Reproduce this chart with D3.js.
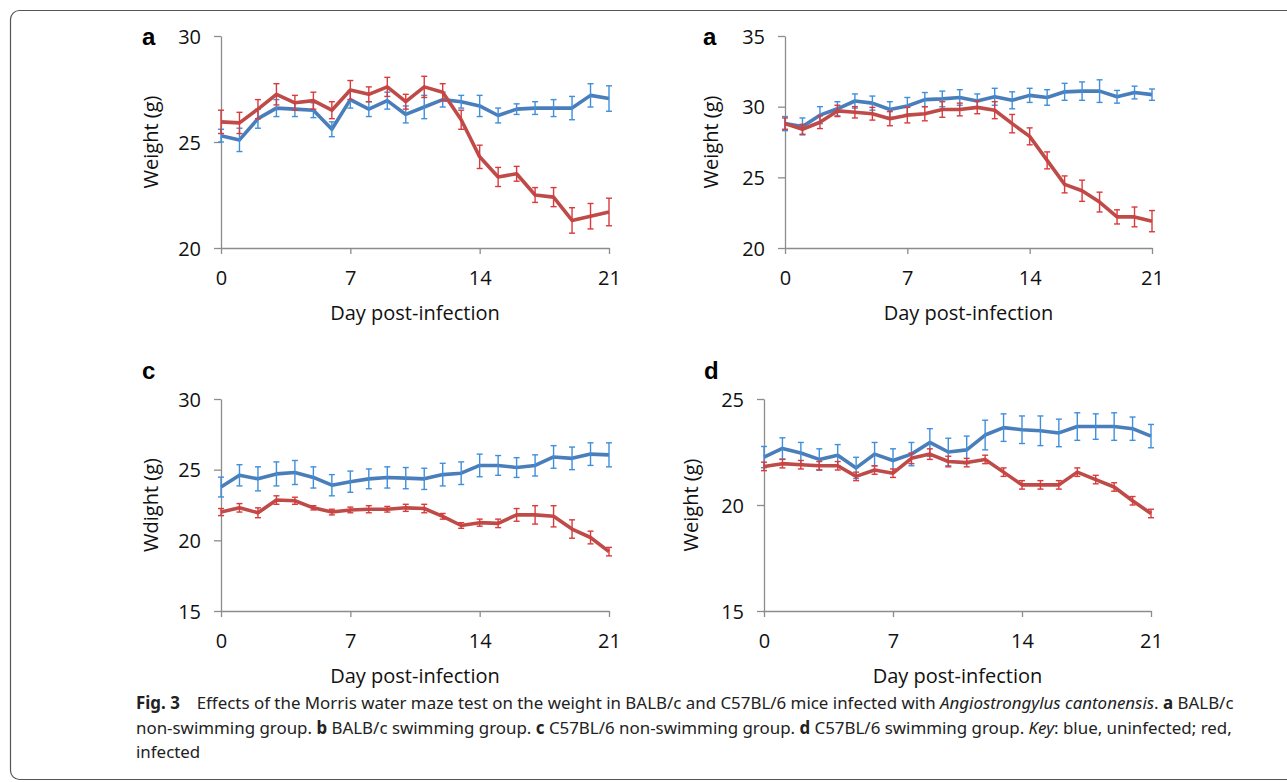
<!DOCTYPE html>
<html>
<head>
<meta charset="utf-8">
<script src="https://cdn.jsdelivr.net/npm/d3@7"></script>
<style>
  body { margin: 0; background: #fff; }
  svg { display: block; }
  .tick text { font-family: "Open Sans", "Noto Sans", sans-serif; }
</style>
</head>
<body>
<div id="svg-container"></div>
<script>
////////////////////////////  Data  ////////////////////////////
const days = [0,1,2,3,4,5,6,7,8,9,10,11,12,13,14,15,16,17,18,19,20,21];
const dayTicks = [0, 7, 14, 21];

// panel a (BALB/c non-swimming)
const aBlue    = [25.3,25.1,26.1,26.6,26.55,26.5,25.6,27.0,26.55,26.95,26.3,26.65,27.0,26.9,26.7,26.25,26.55,26.6,26.6,26.6,27.2,27.05];
const aBlueErr = [0.3,0.55,0.45,0.4,0.35,0.35,0.35,0.4,0.35,0.4,0.4,0.55,0.35,0.3,0.5,0.35,0.25,0.3,0.4,0.55,0.55,0.6];
const aRed     = [25.95,25.9,26.55,27.25,26.85,26.95,26.5,27.45,27.25,27.6,26.9,27.6,27.35,26.05,24.3,23.35,23.5,22.5,22.4,21.3,21.5,21.7];
const aRedErr  = [0.55,0.5,0.45,0.5,0.35,0.4,0.4,0.45,0.35,0.45,0.35,0.5,0.4,0.45,0.55,0.45,0.35,0.35,0.45,0.6,0.6,0.65];

// panel b (BALB/c swimming)
const bBlue    = [28.8,28.6,29.4,29.85,30.4,30.25,29.8,30.05,30.5,30.55,30.65,30.4,30.7,30.45,30.8,30.65,31.05,31.1,31.1,30.7,31.0,30.85];
const bBlueErr = [0.5,0.6,0.6,0.5,0.5,0.5,0.55,0.6,0.5,0.55,0.55,0.5,0.6,0.6,0.5,0.55,0.6,0.65,0.8,0.45,0.45,0.4];
const bRed     = [28.8,28.4,28.9,29.7,29.6,29.5,29.15,29.4,29.5,29.8,29.8,29.95,29.75,28.8,27.9,26.2,24.5,24.05,23.25,22.2,22.2,21.9];
const bRedErr  = [0.4,0.35,0.45,0.4,0.4,0.45,0.5,0.55,0.5,0.55,0.45,0.45,0.6,0.65,0.6,0.6,0.6,0.75,0.7,0.5,0.7,0.75];

// panel c (C57BL/6 non-swimming)
const cBlue    = [23.77,24.6,24.35,24.7,24.8,24.45,23.9,24.15,24.35,24.45,24.4,24.35,24.65,24.75,25.3,25.3,25.15,25.3,25.9,25.8,26.1,26.05];
const cBlueErr = [0.7,0.75,0.85,0.85,0.85,0.75,0.75,0.75,0.7,0.75,0.75,0.75,0.8,0.8,0.8,0.7,0.7,0.75,0.8,0.8,0.8,0.85];
const cRed     = [22.0,22.3,21.95,22.85,22.8,22.3,22.0,22.15,22.2,22.2,22.3,22.25,21.7,21.05,21.25,21.2,21.8,21.8,21.7,20.8,20.2,19.2];
const cRedErr  = [0.25,0.3,0.35,0.3,0.25,0.15,0.2,0.2,0.25,0.2,0.25,0.3,0.2,0.2,0.25,0.3,0.45,0.65,0.75,0.65,0.45,0.3];

// panel d (C57BL/6 swimming)
const dBlue    = [22.26,22.67,22.45,22.15,22.35,21.75,22.4,22.1,22.4,22.95,22.5,22.6,23.3,23.65,23.55,23.5,23.4,23.7,23.7,23.7,23.6,23.25];
const dBlueErr = [0.5,0.5,0.5,0.5,0.5,0.5,0.55,0.55,0.55,0.65,0.65,0.65,0.7,0.65,0.65,0.7,0.65,0.65,0.6,0.65,0.55,0.55];
const dRed     = [21.82,21.95,21.9,21.85,21.85,21.35,21.65,21.5,22.2,22.4,22.05,22.0,22.15,21.55,20.95,20.95,20.95,21.55,21.2,20.85,20.2,19.6];
const dRedErr  = [0.2,0.2,0.2,0.2,0.2,0.2,0.2,0.2,0.25,0.25,0.25,0.2,0.2,0.2,0.2,0.2,0.2,0.2,0.2,0.2,0.2,0.2];

const panelLetters = ["a", "a", "c", "d"];
const yTitles = ["Weight (g)", "Weight (g)", "Wdight (g)", "Weight (g)"];
const yDomains = [[20, 30], [20, 35], [15, 30], [15, 25]];
const yTickSets = [[20, 25, 30], [20, 25, 30, 35], [15, 20, 25, 30], [15, 20, 25]];
const xTitle = "Day post-infection";

////////////////////////////  Init  ////////////////////////////
const width = 1287;
const height = 782;

const svg = d3.select("#svg-container").append("svg")
  .attr("width", width)
  .attr("height", height);

// rounded frame (right side runs off the page)
svg.append("rect")
  .attr("x", 10.5).attr("y", 10.5)
  .attr("width", 1300).attr("height", 769)
  .attr("rx", 9)
  .attr("fill", "none")
  .attr("stroke", "#555")
  .attr("stroke-width", 1.2);

const colBlue = "#4a7ebb", colBlueErr = "#3f8fdc";
const colRed = "#be4b48", colRedErr = "#d93a3c";
const axisCol = "#8c8c8c";

// 각 패널 위치
const layout = [
  { x0: 221, x1: 609, yTop: 36, yBot: 248, letterX: 142, letterY: 45, titleX: 153 },
  { x0: 785, x1: 1152, yTop: 36, yBot: 248, letterX: 703, letterY: 45, titleX: 713 },
  { x0: 221, x1: 609, yTop: 399, yBot: 611, letterX: 142, letterY: 379, titleX: 153 },
  { x0: 764, x1: 1151, yTop: 399, yBot: 611, letterX: 704, letterY: 379, titleX: 693 }
];

const series = [
  [aBlue, aBlueErr, aRed, aRedErr],
  [bBlue, bBlueErr, bRed, bRedErr],
  [cBlue, cBlueErr, cRed, cRedErr],
  [dBlue, dBlueErr, dRed, dRedErr]
];

function drawPanel(i) {
  const L = layout[i];
  const g = svg.append("g");

  const xScale = d3.scaleLinear().domain([0, 21]).range([L.x0, L.x1]);
  const yScale = d3.scaleLinear().domain(yDomains[i]).range([L.yBot, L.yTop]);

  // y axis
  const yAxis = g.append("g")
    .attr("transform", `translate(${L.x0},0)`)
    .call(d3.axisLeft(yScale).tickValues(yTickSets[i]).tickSize(7).tickPadding(13).tickSizeOuter(0));
  // x axis
  const xAxis = g.append("g")
    .attr("transform", `translate(0,${L.yBot})`)
    .call(d3.axisBottom(xScale).tickValues(dayTicks).tickSize(6).tickPadding(17).tickSizeOuter(0));

  [yAxis, xAxis].forEach((ax) => {
    ax.select(".domain").attr("stroke", axisCol).attr("stroke-width", 1.3);
    ax.selectAll(".tick line").attr("stroke", axisCol).attr("stroke-width", 1.3);
    ax.selectAll(".tick text").attr("fill", "#111").style("font-size", "20px");
  });
  yAxis.selectAll(".tick text").attr("dy", "0.36em");

  const line = d3.line()
    .x((d, j) => xScale(days[j]))
    .y((d) => yScale(d));

  const [bv, be, rv, re] = series[i];
  [[bv, be, colBlue, colBlueErr], [rv, re, colRed, colRedErr]].forEach(([vals, errs, c, ce]) => {
    g.append("path")
      .datum(vals)
      .attr("d", line)
      .attr("fill", "none")
      .attr("stroke", c)
      .attr("stroke-width", 3.6)
      .attr("stroke-linejoin", "round");

    const eb = g.append("g").attr("stroke", ce).attr("stroke-width", 1.4);
    vals.forEach((v, j) => {
      const x = xScale(days[j]);
      const yHi = yScale(v + errs[j]);
      const yLo = yScale(v - errs[j]);
      eb.append("line").attr("x1", x).attr("x2", x).attr("y1", yHi).attr("y2", yLo);
      eb.append("line").attr("x1", x - 3).attr("x2", x + 3).attr("y1", yHi).attr("y2", yHi);
      eb.append("line").attr("x1", x - 3).attr("x2", x + 3).attr("y1", yLo).attr("y2", yLo);
    });
  });

  // panel letter
  g.append("text")
    .attr("x", L.letterX).attr("y", L.letterY)
    .attr("font-family", "Liberation Sans, Arial, sans-serif")
    .attr("font-weight", "bold")
    .attr("font-size", 24)
    .text(panelLetters[i]);

  // y title
  g.append("text")
    .attr("transform", `translate(${L.titleX},${(L.yTop + L.yBot) / 2}) rotate(-90)`)
    .attr("text-anchor", "middle")
    .attr("dominant-baseline", "middle")
    .attr("font-family", "Open Sans, Noto Sans, sans-serif")
    .attr("font-size", 20)
    .attr("fill", "#111")
    .text(yTitles[i]);

  // x title
  g.append("text")
    .attr("x", (L.x0 + L.x1) / 2).attr("y", L.yBot + 72)
    .attr("text-anchor", "middle")
    .attr("font-family", "Open Sans, Noto Sans, sans-serif")
    .attr("font-size", 20)
    .attr("fill", "#111")
    .text(xTitle);
}

for (let i = 0; i < 4; i++) drawPanel(i);

////////////////////////////  Caption  ////////////////////////////
const cap = svg.append("text")
  .attr("font-family", "Noto Sans, Open Sans, sans-serif")
  .attr("font-size", 16.9)
  .attr("fill", "#222");

const l1 = cap.append("tspan").attr("x", 136).attr("y", 709);
l1.append("tspan").attr("font-weight", "bold").text("Fig. 3");
l1.append("tspan").text("\u2003Effects of the Morris water maze test on the weight in BALB/c and C57BL/6 mice infected with ");
l1.append("tspan").attr("font-style", "italic").text("Angiostrongylus cantonensis");
l1.append("tspan").text(". ");
l1.append("tspan").attr("font-weight", "bold").text("a");
l1.append("tspan").text(" BALB/c");

const l2 = cap.append("tspan").attr("x", 136).attr("y", 734);
l2.append("tspan").text("non-swimming group. ");
l2.append("tspan").attr("font-weight", "bold").text("b");
l2.append("tspan").text(" BALB/c swimming group. ");
l2.append("tspan").attr("font-weight", "bold").text("c");
l2.append("tspan").text(" C57BL/6 non-swimming group. ");
l2.append("tspan").attr("font-weight", "bold").text("d");
l2.append("tspan").text(" C57BL/6 swimming group. ");
l2.append("tspan").attr("font-style", "italic").text("Key");
l2.append("tspan").text(": blue, uninfected; red,");

cap.append("tspan").attr("x", 136).attr("y", 758).text("infected");
</script>
</body>
</html>
